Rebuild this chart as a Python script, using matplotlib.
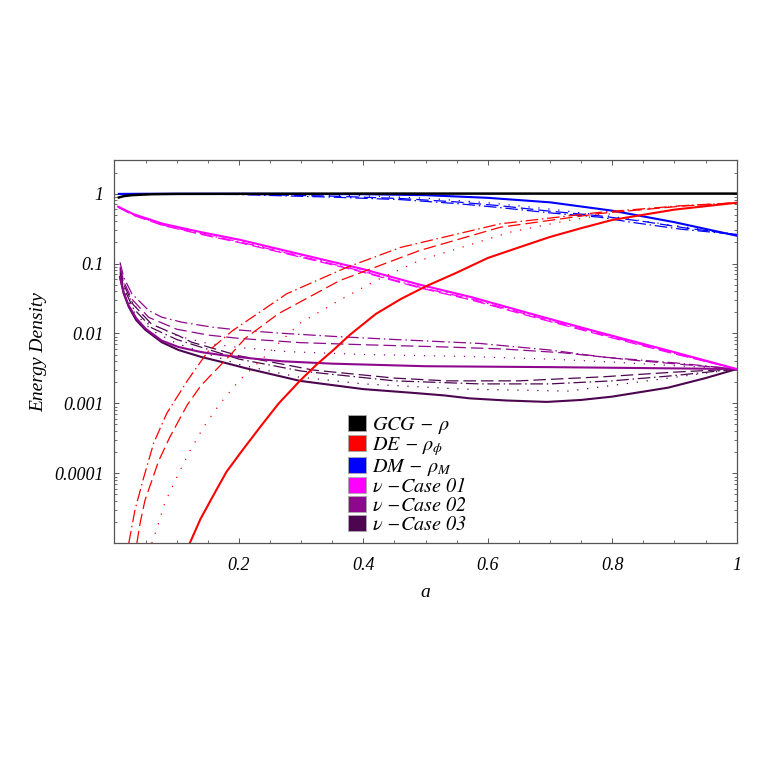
import matplotlib
matplotlib.use('Agg')
import matplotlib.pyplot as plt
from matplotlib.patches import Patch
from matplotlib.ticker import FixedLocator, NullFormatter, LogLocator

# ---- data (a, energy density) ----
# GCG - rho
a_gcg = [0.007, 0.015, 0.028, 0.06, 0.1, 0.4, 1.0]
gcg = [0.88, 0.92, 0.95, 0.98, 0.99, 1.0, 1.0]

# DM - rho_M
a_dm_solid = [0.007, 0.05, 0.2, 0.3, 0.4, 0.5, 0.6, 0.7, 0.8, 0.9, 1.0]
dm_solid = [0.99, 0.995, 0.995, 0.99, 0.98, 0.95, 0.87, 0.75, 0.57, 0.39, 0.25]
a_dm_dashdot = [0.007, 0.1, 0.2, 0.27, 0.35, 0.46, 0.55, 0.62, 0.7, 0.78, 0.83, 0.91, 1.0]
dm_dashdot = [0.99, 0.99, 0.97, 0.93, 0.89, 0.82, 0.72, 0.63, 0.53, 0.46, 0.39, 0.31, 0.26]
a_dm_dashed = [0.007, 0.15, 0.25, 0.35, 0.46, 0.55, 0.62, 0.7, 0.78, 0.85, 0.92, 1.0]
dm_dashed = [0.99, 0.99, 0.96, 0.92, 0.85, 0.76, 0.67, 0.56, 0.48, 0.4, 0.32, 0.26]
a_dm_dotted = [0.007, 0.2, 0.3, 0.4, 0.5, 0.6, 0.7, 0.8, 0.9, 1.0]
dm_dotted = [0.99, 0.99, 0.97, 0.93, 0.86, 0.74, 0.6, 0.47, 0.35, 0.26]

# DE - rho_phi
a_de_solid = [0.121, 0.138, 0.157, 0.18, 0.205, 0.235, 0.264, 0.298, 0.325, 0.351, 0.378,
              0.42, 0.46, 0.5, 0.55, 0.6, 0.65, 0.7, 0.75, 0.8, 0.9, 1.0]
de_solid = [1e-5, 2.2e-5, 4.5e-5, 1.05e-4, 2.1e-4, 4.7e-4, 1e-3, 0.0021, 0.0036, 0.0057,
            0.0095, 0.019, 0.031, 0.047, 0.074, 0.12, 0.17, 0.24, 0.32, 0.42, 0.59, 0.74]
a_de_dashdot = [0.023, 0.033, 0.047, 0.063, 0.084, 0.117, 0.15, 0.19, 0.277, 0.373,
                0.46, 0.62, 0.78, 0.91, 1.0]
de_dashdot = [1e-5, 3e-5, 8.7e-5, 2.7e-4, 7.2e-4, 0.0021, 0.0055, 0.011, 0.037, 0.088,
              0.17, 0.37, 0.54, 0.67, 0.74]
a_de_dashed = [0.036, 0.041, 0.049, 0.071, 0.089, 0.117, 0.139, 0.186, 0.21, 0.264,
               0.362, 0.49, 0.62, 0.78, 0.91, 1.0]
de_dashed = [1e-5, 1.9e-5, 4.1e-5, 1.5e-4, 3.3e-4, 9.5e-4, 1.8e-3, 0.0049, 0.0085, 0.0193,
             0.057, 0.153, 0.33, 0.52, 0.66, 0.74]
a_de_dotted = [0.06, 0.067, 0.081, 0.1, 0.12, 0.144, 0.17, 0.2, 0.25, 0.298, 0.362,
               0.42, 0.49, 0.635, 0.727, 0.83, 0.92, 1.0]
de_dotted = [1e-5, 1.5e-5, 3.8e-5, 8.7e-5, 2.0e-4, 4.7e-4, 1e-3, 0.0021, 0.0055, 0.014, 0.03,
             0.057, 0.11, 0.28, 0.41, 0.57, 0.68, 0.74]

# nu - Case 01
a_c1 = [0.006, 0.03, 0.078, 0.14, 0.2, 0.3, 0.4, 0.49, 0.574, 0.68, 0.786, 0.9, 1.0]
c1_solid = [0.65, 0.51, 0.37, 0.28, 0.22, 0.135, 0.083, 0.05, 0.033, 0.018, 0.01, 0.0054, 0.0031]
c1_dashed = [0.64, 0.49, 0.35, 0.26, 0.2, 0.123, 0.075, 0.045, 0.03, 0.0165, 0.0093, 0.0051, 0.0031]
c1_dashdot = [0.64, 0.5, 0.355, 0.265, 0.205, 0.126, 0.077, 0.046, 0.031, 0.017, 0.0096, 0.0052, 0.0031]
c1_dotted = [0.65, 0.5, 0.36, 0.27, 0.21, 0.13, 0.079, 0.048, 0.032, 0.0175, 0.0098, 0.0053, 0.0031]

# nu - Case 02
a_c2_solid = [0.009, 0.015, 0.023, 0.035, 0.05, 0.076, 0.103, 0.14, 0.173, 0.22, 0.27,
              0.35, 0.5, 0.7, 0.85, 1.0]
c2_solid = [0.064, 0.038, 0.025, 0.0165, 0.0117, 0.0079, 0.0064, 0.0054, 0.0049, 0.0044,
            0.004, 0.0037, 0.0034, 0.0033, 0.0032, 0.0031]
a_c2_dashdot = [0.009, 0.015, 0.028, 0.055, 0.076, 0.108, 0.157, 0.2, 0.266, 0.35, 0.45,
                0.587, 0.7, 0.785, 0.9, 1.0]
c2_dashdot = [0.104, 0.063, 0.037, 0.0213, 0.0171, 0.0145, 0.0123, 0.0112, 0.0101, 0.0091,
              0.0082, 0.0072, 0.0058, 0.0046, 0.0038, 0.0031]
a_c2_dashed = [0.009, 0.015, 0.028, 0.055, 0.1, 0.15, 0.2, 0.298, 0.4, 0.534, 0.624, 0.72,
               0.84, 0.93, 1.0]
c2_dashed = [0.09, 0.055, 0.031, 0.017, 0.0115, 0.0095, 0.0085, 0.0074, 0.0069, 0.0064,
             0.006, 0.0053, 0.0041, 0.0035, 0.0031]
a_c2_dotted = [0.009, 0.015, 0.028, 0.055, 0.1, 0.15, 0.2, 0.277, 0.4, 0.56, 0.7, 0.8, 0.89, 1.0]
c2_dotted = [0.08, 0.05, 0.028, 0.0145, 0.0093, 0.0072, 0.0063, 0.0055, 0.005, 0.0047,
             0.0043, 0.0039, 0.0035, 0.0031]

# nu - Case 03
a_c3_solid = [0.009, 0.015, 0.023, 0.035, 0.05, 0.076, 0.103, 0.14, 0.173, 0.21, 0.298,
              0.4, 0.486, 0.53, 0.571, 0.63, 0.695, 0.75, 0.8, 0.89, 0.95, 1.0]
c3_solid = [0.064, 0.037, 0.024, 0.0155, 0.0112, 0.0075, 0.0058, 0.0046, 0.0039, 0.0032,
            0.0021, 0.0016, 0.0014, 0.0013, 0.00118, 0.0011, 0.00105, 0.00112, 0.00125,
            0.00168, 0.0023, 0.0031]
a_c3_dashed = [0.009, 0.015, 0.03, 0.06, 0.103, 0.124, 0.2, 0.319, 0.45, 0.534, 0.65,
               0.785, 0.9, 1.0]
c3_dashed = [0.085, 0.05, 0.026, 0.0135, 0.0093, 0.0075, 0.0048, 0.003, 0.0023, 0.0021,
             0.0021, 0.0024, 0.0028, 0.0031]
a_c3_dashdot = [0.009, 0.015, 0.03, 0.06, 0.1, 0.2, 0.3, 0.45, 0.587, 0.7, 0.8, 0.9, 1.0]
c3_dashdot = [0.075, 0.045, 0.023, 0.012, 0.0082, 0.0043, 0.0029, 0.0021, 0.0019, 0.0019,
              0.0021, 0.0025, 0.0031]
a_c3_dotted = [0.009, 0.015, 0.03, 0.06, 0.1, 0.2, 0.293, 0.4, 0.56, 0.73, 0.89, 1.0]
c3_dotted = [0.07, 0.042, 0.021, 0.011, 0.0072, 0.0036, 0.0024, 0.0019, 0.0016, 0.0015,
             0.0023, 0.0031]

labels = ['$GCG$ $-$ $\\rho$', '$DE$ $-$ $\\rho_{\\phi}$', '$DM$ $-$ $\\rho_{M}$',
          '$\\nu$ $-Case$ $01$', '$\\nu$ $-Case$ $02$', '$\\nu$ $-Case$ $03$']
colors = ['#000000', '#ff0000', '#0000ff', '#ff00ff', '#8e088e', '#4c0650']

# ---- style ----
plt.rcParams['font.family'] = ['Liberation Serif', 'DejaVu Serif']
plt.rcParams['font.style'] = 'italic'
plt.rcParams['mathtext.fontset'] = 'stix'

ls_dashed = (0, (10, 4))
ls_dashdot = (0, (10, 3, 1.2, 3))
ls_dotted = (0, (1, 7))
lw_s = 1.5
lw_t = 0.9

fig = plt.figure(figsize=(7.63, 7.63), dpi=100)
ax = fig.add_axes([0.150, 0.288, 0.8155, 0.502])

# case 03 and case 02
ax.plot(a_c3_dashed, c3_dashed, color=colors[5], lw=lw_t, ls=ls_dashed)
ax.plot(a_c3_dashdot, c3_dashdot, color=colors[5], lw=lw_t, ls=ls_dashdot)
ax.plot(a_c3_dotted, c3_dotted, color=colors[5], lw=lw_t, ls=ls_dotted)
ax.plot(a_c2_dashed, c2_dashed, color=colors[4], lw=lw_t, ls=ls_dashed)
ax.plot(a_c2_dashdot, c2_dashdot, color=colors[4], lw=lw_t, ls=ls_dashdot)
ax.plot(a_c2_dotted, c2_dotted, color=colors[4], lw=lw_t, ls=ls_dotted)
ax.plot(a_c3_solid, c3_solid, color=colors[5], lw=lw_s)
ax.plot(a_c2_solid, c2_solid, color=colors[4], lw=lw_s)

# case 01
ax.plot(a_c1, c1_dashed, color=colors[3], lw=lw_t, ls=ls_dashed)
ax.plot(a_c1, c1_dashdot, color=colors[3], lw=lw_t, ls=ls_dashdot)
ax.plot(a_c1, c1_dotted, color=colors[3], lw=lw_t, ls=ls_dotted)
ax.plot(a_c1, c1_solid, color=colors[3], lw=lw_s)

# DM
ax.plot(a_dm_dashed, dm_dashed, color=colors[2], lw=lw_t, ls=ls_dashed)
ax.plot(a_dm_dashdot, dm_dashdot, color=colors[2], lw=lw_t, ls=ls_dashdot)
ax.plot(a_dm_dotted, dm_dotted, color=colors[2], lw=lw_t, ls=ls_dotted)
ax.plot(a_dm_solid, dm_solid, color=colors[2], lw=lw_s)

# DE
ax.plot(a_de_dashed, de_dashed, color=colors[1], lw=lw_t, ls=ls_dashed)
ax.plot(a_de_dashdot, de_dashdot, color=colors[1], lw=lw_t, ls=ls_dashdot)
ax.plot(a_de_dotted, de_dotted, color=colors[1], lw=lw_t, ls=ls_dotted)
ax.plot(a_de_solid, de_solid, color=colors[1], lw=lw_s)

# GCG
ax.plot(a_gcg, gcg, color=colors[0], lw=lw_s + 0.3)

ax.set_yscale('log')
ax.set_xlim(0, 1)
ax.set_ylim(1e-5, 3)

ax.set_xticks([0.2, 0.4, 0.6, 0.8, 1.0])
ax.set_xticklabels(['0.2', '0.4', '0.6', '0.8', '1'])
ax.xaxis.set_minor_locator(FixedLocator([0.05 * i for i in range(1, 20)]))
ax.set_yticks([1e-4, 1e-3, 1e-2, 1e-1, 1])
ax.set_yticklabels(['0.0001', '0.001', '0.01', '0.1', '1'])
ax.yaxis.set_minor_locator(LogLocator(base=10, subs=range(2, 10), numticks=20))
ax.yaxis.set_minor_formatter(NullFormatter())

for s in ax.spines.values():
    s.set_color('#555555')
    s.set_linewidth(0.9)
ax.tick_params(which='both', direction='in', top=True, right=True, colors='#555555',
               labelcolor='black', labelsize=13)
ax.tick_params(which='major', length=3.5, width=0.7)
ax.tick_params(which='minor', length=2.2, width=0.6)
ax.tick_params(axis='x', pad=10)
ax.tick_params(axis='y', pad=8)

ax.set_xlabel('a', fontsize=14, labelpad=7)
ax.set_ylabel('Energy Density', fontsize=14, labelpad=5)

handles = [Patch(facecolor=c, edgecolor='#aaaaaa', lw=0.6) for c in colors]
ax.legend(handles, labels, loc='upper left', bbox_to_anchor=(0.376, 0.335), frameon=False,
          fontsize=14.5, handlelength=0.85, handleheight=0.85, handletextpad=0.3,
          labelspacing=-0.05, borderpad=0, borderaxespad=0)

fig.savefig('out.png', dpi=100)
